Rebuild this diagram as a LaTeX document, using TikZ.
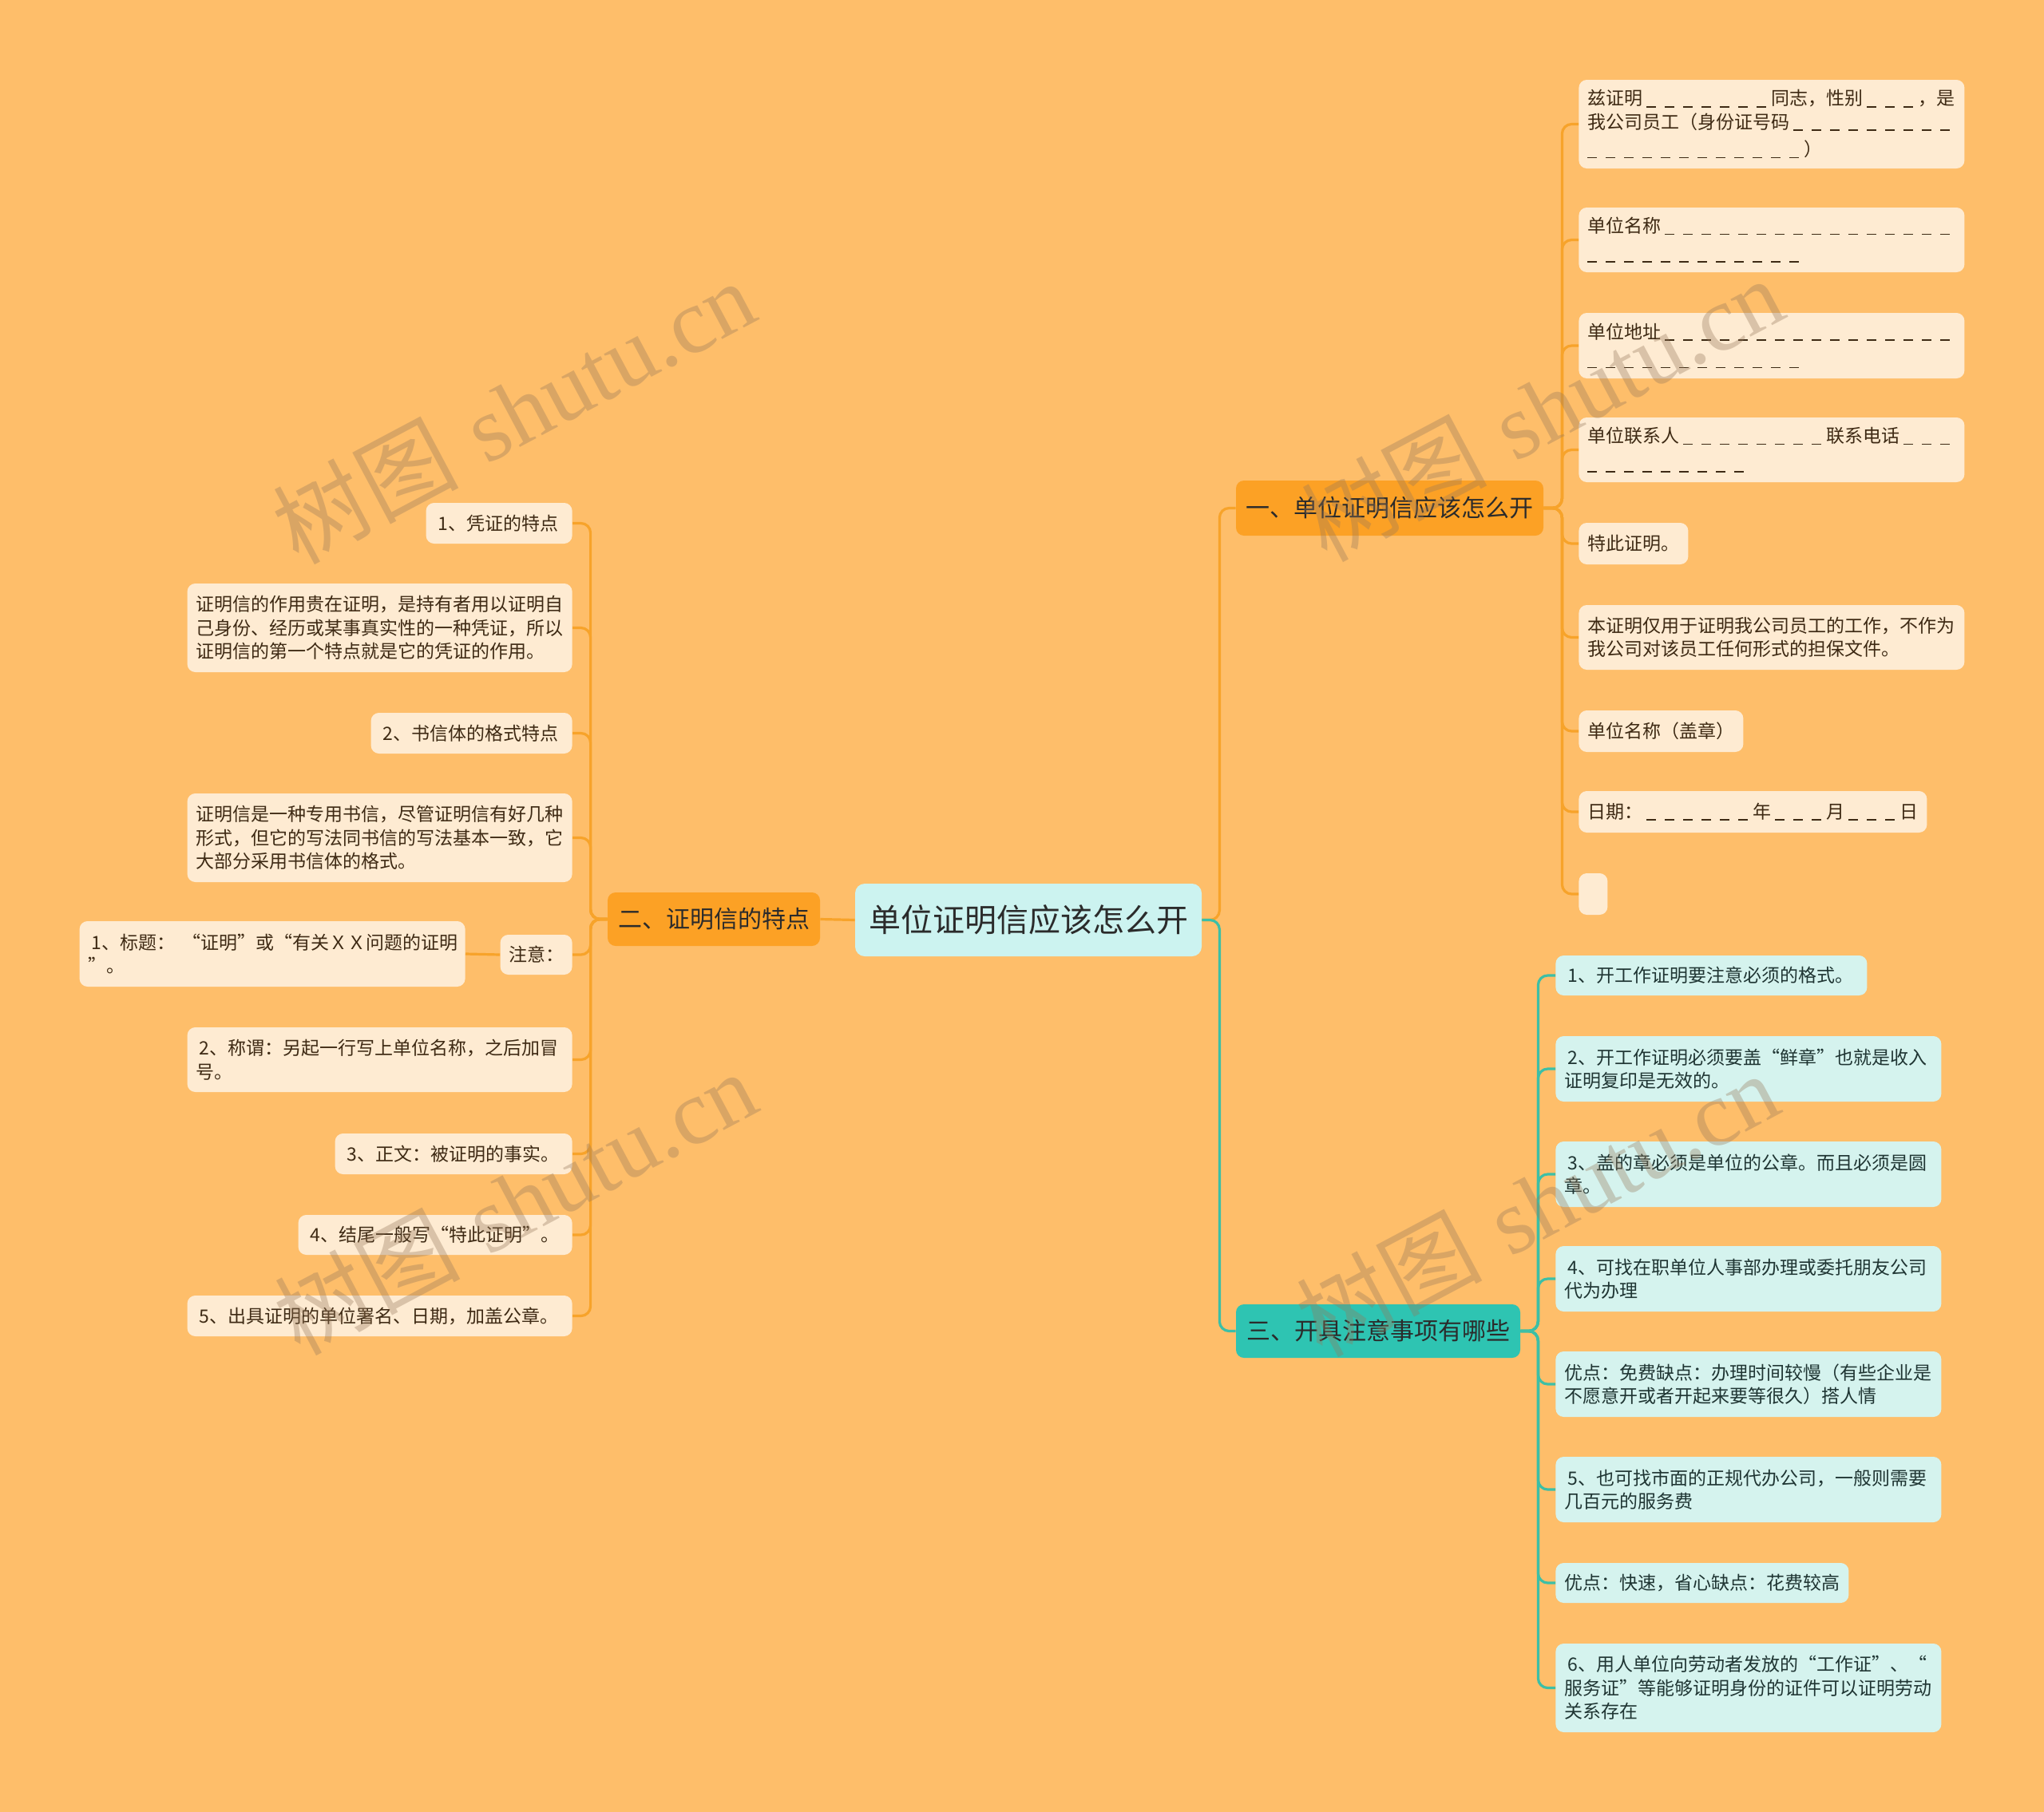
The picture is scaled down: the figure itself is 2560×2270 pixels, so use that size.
\documentclass[tikz,border=0pt]{standalone}
\usepackage{fontspec}
\newfontfamily\cjk{Noto Sans CJK SC}
\newfontfamily\wmfont{Liberation Serif}
\definecolor{bgcol}{HTML}{FEBE6A}
\definecolor{lineO}{HTML}{F7A32A}
\definecolor{lineT}{HTML}{3CBFA6}
\definecolor{brO}{HTML}{FCA125}
\definecolor{brT}{HTML}{2EC4B2}
\definecolor{ctr}{HTML}{CCF3F0}
\definecolor{leafO}{HTML}{FEEBD2}
\definecolor{leafT}{HTML}{D5F3EE}
\definecolor{txtO}{HTML}{3E2A14}
\definecolor{txtT}{HTML}{1F3533}
\definecolor{txtB}{HTML}{2B2B2B}
\definecolor{wmcol}{RGB}{150,120,90}
\newcommand\ubk{\kern0.22em\rule[-0.12em]{0.52em}{0.07em}\kern0.26em}
\newcommand\ubks[1]{\foreach\i in {1,...,#1}{\ubk}}
\newcommand\leaffont{\cjk\fontsize{11.5}{14.7}\selectfont}
\tikzset{
  base/.style={rectangle, rounded corners=5pt, inner ysep=0pt, inner xsep=5.5pt, align=left, anchor=west},
  lo/.style={base, fill=leafO, text=txtO, font=\leaffont},
  lt/.style={base, fill=leafT, text=txtT, font=\leaffont},
  brnode/.style={rectangle, rounded corners=5pt, inner sep=0pt, align=center, text=txtB, font=\cjk\fontsize{15}{18}\selectfont},
  conO/.style={draw=lineO, line width=1.6pt, rounded corners=6pt},
  conT/.style={draw=lineT, line width=1.6pt, rounded corners=6pt},
  wm/.style={rotate=28, text=wmcol, opacity=0.35, inner sep=0pt, font=\fontsize{58}{62}\selectfont}
}
\begin{document}
\begin{tikzpicture}[x=0.5pt, y=-0.5pt]
\fill[bgcol] (0,0) rectangle (2560,2270);
\useasboundingbox (0,0) rectangle (2560,2270);

% center and branches
\node[brnode, fill=ctr, rounded corners=6pt, minimum width=217pt, minimum height=45.5pt, font=\cjk\fontsize{20}{24}\selectfont, text=txtB] (C) at (1288,1152.5) {单位证明信应该怎么开};
\node[brnode, fill=brO, minimum width=192.5pt, minimum height=34.5pt] (B1) at (1740.5,636.5) {一、单位证明信应该怎么开};
\node[brnode, fill=brO, minimum width=133pt, minimum height=33.5pt] (B2) at (894,1151.5) {二、证明信的特点};
\node[brnode, fill=brT, minimum width=178pt, minimum height=33.5pt] (B3) at (1726,1667.5) {三、开具注意事项有哪些};

% branch 1 leaves
\node[lo, text width=230.5pt, minimum height=55.5pt] (a1) at (1977,155.5) {兹证明\ubks{7}同志，性别\ubks{3}，是\\我公司员工（身份证号码\ubks{9}\\\ubks{12}）};
\node[lo, text width=230.5pt, minimum height=40.5pt] (a2) at (1977,300.5) {单位名称\ubks{16}\\\ubks{12}};
\node[lo, text width=230.5pt, minimum height=41pt] (a3) at (1977,433) {单位地址\ubks{16}\\\ubks{12}};
\node[lo, text width=230.5pt, minimum height=40.5pt] (a4) at (1977,563.5) {单位联系人\ubks{8}联系电话\ubks{3}\\\ubks{9}};
\node[lo, text width=57.5pt, minimum height=26pt] (a5) at (1977,681) {特此证明。};
\node[lo, text width=230.5pt, minimum height=40.5pt] (a6) at (1977,798.5) {本证明仅用于证明我公司员工的工作，不作为\\我公司对该员工任何形式的担保文件。};
\node[lo, text width=92pt, minimum height=26pt] (a7) at (1977,916) {单位名称（盖章）};
\node[lo, text width=207pt, minimum height=26pt] (a8) at (1977,1017) {日期：\ubks{6}年\ubks{3}月\ubks{3}日};
\node[lo, text width=7pt, minimum height=26pt] (a9) at (1977,1120) {};

% branch 2 leaves
\node[lo, anchor=east, text width=80.5pt, minimum height=25.5pt] (b1) at (717,655.5) {\kern2pt 1、凭证的特点};
\node[lo, anchor=east, text width=230pt, minimum height=55.5pt] (b2) at (717,786.5) {证明信的作用贵在证明，是持有者用以证明自\\己身份、经历或某事真实性的一种凭证，所以\\证明信的第一个特点就是它的凭证的作用。};
\node[lo, anchor=east, text width=115pt, minimum height=25.5pt] (b3) at (717,918.5) {\kern2pt 2、书信体的格式特点};
\node[lo, anchor=east, text width=230pt, minimum height=55.5pt] (b4) at (717,1049.5) {证明信是一种专用书信，尽管证明信有好几种\\形式，但它的写法同书信的写法基本一致，它\\大部分采用书信体的格式。};
\node[lo, anchor=east, text width=34pt, minimum height=25pt] (b5) at (717,1196) {注意：};
\node[lo, anchor=east, text width=230.5pt, minimum height=41pt] (b5c) at (583,1195) {\kern2pt 1、标题：\kern0.4em“证明”或“有关ＸＸ问题的证明\\”。};
\node[lo, anchor=east, text width=230pt, minimum height=40.5pt] (b6) at (717,1327.5) {\kern2pt 2、称谓：另起一行写上单位名称，之后加冒\\号。};
\node[lo, anchor=east, text width=137.5pt, minimum height=25.5pt] (b7) at (717,1445.5) {\kern2pt 3、正文：被证明的事实。};
\node[lo, anchor=east, text width=160.5pt, minimum height=25pt] (b8) at (717,1547) {\kern2pt 4、结尾一般写“特此证明”。};
\node[lo, anchor=east, text width=230pt, minimum height=25.5pt] (b9) at (717,1648.5) {\kern2pt 5、出具证明的单位署名、日期，加盖公章。};

% branch 3 leaves
\node[lt, text width=184pt, minimum height=25pt] (c1) at (1948,1222) {\kern2pt 1、开工作证明要注意必须的格式。};
\node[lt, text width=230.5pt, minimum height=41pt] (c2) at (1948,1339) {\kern2pt 2、开工作证明必须要盖“鲜章”也就是收入\\证明复印是无效的。};
\node[lt, text width=230.5pt, minimum height=41pt] (c3) at (1948,1471) {\kern2pt 3、盖的章必须是单位的公章。而且必须是圆\\章。};
\node[lt, text width=230.5pt, minimum height=41pt] (c4) at (1948,1602) {\kern2pt 4、可找在职单位人事部办理或委托朋友公司\\代为办理};
\node[lt, text width=230.5pt, minimum height=41pt] (c5) at (1948,1734) {优点：免费缺点：办理时间较慢（有些企业是\\不愿意开或者开起来要等很久）搭人情};
\node[lt, text width=230.5pt, minimum height=41pt] (c6) at (1948,1866) {\kern2pt 5、也可找市面的正规代办公司，一般则需要\\几百元的服务费};
\node[lt, text width=172.5pt, minimum height=25pt] (c7) at (1948,1983) {优点：快速，省心缺点：花费较高};
\node[lt, text width=230.5pt, minimum height=55.5pt] (c8) at (1948,2114.5) {\kern2pt 6、用人单位向劳动者发放的“工作证”、“\\服务证”等能够证明身份的证件可以证明劳动\\关系存在};

% connectors
\draw[conO] (C.west) -- (B2.east);
\draw[conO] (C.east) -- ++(22,0) |- (B1.west);
\draw[conT] (C.east) -- ++(22,0) |- (B3.west);
\foreach \n in {a1,a2,a3,a4,a5,a6,a7,a8,a9}
  \draw[conO] (B1.east) -- ++(23,0) |- (\n.west);
\foreach \n in {b1,b2,b3,b4,b5,b6,b7,b8,b9}
  \draw[conO] (B2.west) -- ++(-21,0) |- (\n.east);
\draw[conO] (b5.west) -- (b5c.east);
\foreach \n in {c1,c2,c3,c4,c5,c6,c7,c8}
  \draw[conT] (B3.east) -- ++(22,0) |- (\n.west);

% watermarks
\node[wm] (w1) at (643,515) {{\cjk 树图} {\wmfont shutu.cn}};
\node[wm] (w2) at (1931,512) {{\cjk 树图} {\wmfont shutu.cn}};
\node[wm] (w3) at (645,1506) {{\cjk 树图} {\wmfont shutu.cn}};
\node[wm] (w4) at (1925,1508) {{\cjk 树图} {\wmfont shutu.cn}};
\end{tikzpicture}
\end{document}
